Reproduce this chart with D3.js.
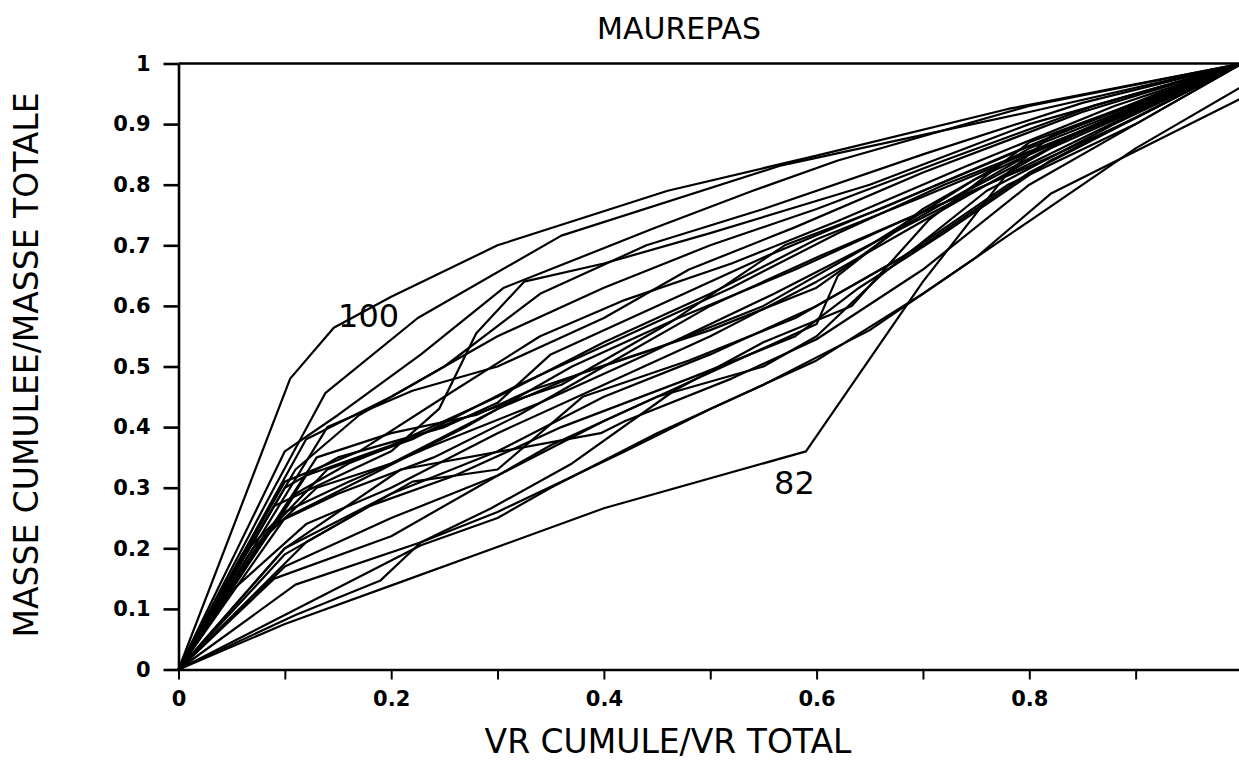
<!DOCTYPE html>
<html>
<head>
<meta charset="utf-8">
<script src="https://cdn.jsdelivr.net/npm/d3@7"></script>
<style>
  html, body { margin: 0; padding: 0; background: #fff; }
  svg { display: block; }
</style>
</head>
<body>
<svg id="chart" width="1239" height="761"></svg>
<script>
// ---------- data ----------
const title = "MAUREPAS";
const xLabel = "VR CUMULE/VR TOTAL";
const yLabel = "MASSE CUMULEE/MASSE TOTALE";
const xTicks = [0, 0.1, 0.2, 0.3, 0.4, 0.5, 0.6, 0.7, 0.8, 0.9, 1.0];
const xTickLabels = ["0", "", "0.2", "", "0.4", "", "0.6", "", "0.8", "", ""];
const yTicks = [0, 0.1, 0.2, 0.3, 0.4, 0.5, 0.6, 0.7, 0.8, 0.9, 1.0];
const yTickLabels = ["0", "0.1", "0.2", "0.3", "0.4", "0.5", "0.6", "0.7", "0.8", "0.9", "1"];

// each series: cumulative VR ratio (x) / cumulative mass ratio (y)
const series100 = [[0,0],[0.105,0.48],[0.146,0.564],[0.2,0.615],[0.3,0.70],[0.46,0.79],[0.6,0.848],[0.78,0.925],[1,1]];
const seriesU2 = [[0,0],[0.09,0.30],[0.138,0.456],[0.225,0.58],[0.36,0.716],[0.567,0.832],[0.8,0.92],[1,1]];
const seriesU3 = [[0,0],[0.1,0.36],[0.15,0.42],[0.228,0.52],[0.306,0.63],[0.447,0.728],[0.54,0.79],[0.62,0.84],[0.8,0.93],[1,1]];
const seriesU4 = [[0,0],[0.11,0.33],[0.17,0.42],[0.25,0.5],[0.34,0.62],[0.44,0.7],[0.55,0.76],[0.7,0.85],[0.85,0.935],[1,1]];
const seriesU5 = [[0,0],[0.12,0.38],[0.2,0.45],[0.3,0.55],[0.4,0.63],[0.5,0.7],[0.6,0.76],[0.72,0.84],[0.86,0.93],[1,1]];
const seriesM1 = [[0,0],[0.1,0.30],[0.15,0.35],[0.25,0.40],[0.3,0.44],[0.35,0.52],[0.45,0.60],[0.55,0.68],[0.7,0.79],[0.85,0.9],[1,1]];
const seriesM2 = [[0,0],[0.09,0.27],[0.2,0.36],[0.245,0.43],[0.28,0.555],[0.325,0.64],[0.4,0.67],[0.5,0.72],[0.65,0.80],[0.8,0.9],[1,1]];
const seriesM3 = [[0,0],[0.12,0.32],[0.2,0.37],[0.3,0.45],[0.4,0.54],[0.5,0.62],[0.6,0.71],[0.7,0.78],[0.85,0.89],[1,1]];
const seriesM4 = [[0,0],[0.1,0.25],[0.18,0.32],[0.27,0.40],[0.37,0.5],[0.47,0.58],[0.58,0.66],[0.68,0.74],[0.8,0.83],[0.9,0.91],[1,1]];
const seriesM5 = [[0,0],[0.08,0.22],[0.14,0.33],[0.22,0.38],[0.32,0.47],[0.42,0.55],[0.52,0.63],[0.62,0.72],[0.72,0.80],[0.88,0.91],[1,1]];
const seriesM6 = [[0,0],[0.11,0.29],[0.16,0.34],[0.26,0.41],[0.36,0.47],[0.46,0.57],[0.57,0.7],[0.66,0.76],[0.78,0.85],[0.92,0.95],[1,1]];
const seriesM7 = [[0,0],[0.13,0.35],[0.2,0.39],[0.28,0.42],[0.33,0.46],[0.45,0.53],[0.55,0.6],[0.65,0.7],[0.75,0.81],[0.9,0.93],[1,1]];
const seriesM8 = [[0,0],[0.07,0.2],[0.13,0.3],[0.2,0.34],[0.3,0.43],[0.38,0.49],[0.5,0.56],[0.6,0.63],[0.68,0.73],[0.8,0.85],[1,1]];
const seriesM9 = [[0,0],[0.06,0.19],[0.1,0.26],[0.16,0.31],[0.24,0.37],[0.34,0.44],[0.44,0.52],[0.56,0.62],[0.66,0.71],[0.76,0.8],[0.9,0.92],[1,1]];
const seriesM10 = [[0,0],[0.14,0.40],[0.22,0.46],[0.3,0.5],[0.4,0.58],[0.48,0.66],[0.58,0.73],[0.7,0.82],[0.85,0.92],[1,1]];
const seriesM11 = [[0,0],[0.1,0.31],[0.17,0.36],[0.25,0.45],[0.34,0.55],[0.42,0.61],[0.52,0.67],[0.62,0.74],[0.74,0.83],[0.88,0.93],[1,1]];
const seriesM12 = [[0,0],[0.09,0.24],[0.15,0.29],[0.24,0.35],[0.32,0.42],[0.4,0.5],[0.5,0.6],[0.6,0.68],[0.72,0.77],[0.84,0.88],[1,1]];
const seriesL1 = [[0,0],[0.1,0.2],[0.2,0.29],[0.3,0.36],[0.4,0.45],[0.5,0.52],[0.6,0.6],[0.7,0.7],[0.8,0.82],[0.9,0.91],[1,1]];
const seriesL2 = [[0,0],[0.12,0.21],[0.22,0.31],[0.3,0.33],[0.38,0.45],[0.48,0.51],[0.58,0.58],[0.68,0.68],[0.78,0.8],[0.9,0.9],[1,1]];
const seriesL3 = [[0,0],[0.1,0.17],[0.2,0.25],[0.3,0.32],[0.4,0.41],[0.5,0.49],[0.6,0.57],[0.62,0.65],[0.7,0.76],[0.8,0.86],[1,1]];
const seriesL4 = [[0,0],[0.09,0.15],[0.2,0.22],[0.28,0.3],[0.35,0.37],[0.45,0.45],[0.55,0.5],[0.6,0.55],[0.66,0.65],[0.76,0.79],[0.88,0.9],[1,1]];
const seriesL5 = [[0,0],[0.1,0.19],[0.18,0.27],[0.26,0.32],[0.36,0.4],[0.48,0.48],[0.58,0.55],[0.64,0.63],[0.72,0.72],[0.82,0.84],[1,1]];
const seriesL6 = [[0,0],[0.11,0.14],[0.228,0.21],[0.294,0.266],[0.37,0.34],[0.466,0.46],[0.55,0.54],[0.633,0.6],[0.705,0.741],[0.8,0.87],[1,1]];
const seriesL7 = [[0,0],[0.1,0.2],[0.209,0.33],[0.397,0.39],[0.42,0.41],[0.52,0.48],[0.6,0.545],[0.7,0.66],[0.8,0.8],[0.9,0.9],[1,1]];
const seriesL8 = [[0,0],[0.05,0.13],[0.12,0.24],[0.2,0.3],[0.3,0.39],[0.4,0.47],[0.5,0.55],[0.6,0.64],[0.7,0.74],[0.82,0.86],[1,1]];
const series82 = [[0,0],[0.1,0.075],[0.21,0.145],[0.40,0.266],[0.59,0.36],[0.70,0.64],[0.78,0.82],[0.82,0.88],[1,1]];
const seriesB2 = [[0,0],[0.11,0.09],[0.19,0.147],[0.228,0.21],[0.3,0.26],[0.36,0.31],[0.42,0.36],[0.5,0.43],[0.6,0.51],[0.7,0.62],[0.8,0.74],[0.9,0.86],[1,0.962]];
const seriesB3 = [[0,0],[0.228,0.205],[0.3,0.25],[0.35,0.3],[0.45,0.39],[0.55,0.47],[0.65,0.56],[0.75,0.68],[0.82,0.785],[1,0.943]];

const allSeries = [series100, seriesU2, seriesU3, seriesU4, seriesU5, seriesM1, seriesM2, seriesM3, seriesM4,
  seriesM5, seriesM6, seriesM7, seriesM8, seriesM9, seriesM10, seriesM11, seriesM12, seriesL1, seriesL2,
  seriesL3, seriesL4, seriesL5, seriesL6, seriesL7, seriesL8, series82, seriesB2, seriesB3];

const annotations = [
  { text: "100", x: 0.15, y: 0.565 },
  { text: "82", x: 0.56, y: 0.29 }
];

// ---------- chart ----------
const svg = d3.select("#chart");
const x = d3.scaleLinear().domain([0, 1]).range([178.5, 1242]);
const y = d3.scaleLinear().domain([0, 1]).range([669.5, 63.5]);

const font = "'DejaVu Sans', sans-serif";

// Series lines
const line = d3.line().x(d => x(d[0])).y(d => y(d[1]));
svg.append("g")
  .selectAll("path")
  .data(allSeries)
  .join("path")
  .attr("d", line)
  .attr("fill", "none")
  .attr("stroke", "#000")
  .attr("stroke-width", 2.2)
  .attr("stroke-linejoin", "round");

// Top frame line
svg.append("line")
  .attr("x1", x(0)).attr("x2", x(1))
  .attr("y1", y(1)).attr("y2", y(1))
  .attr("stroke", "#000").attr("stroke-width", 2.6);

// Y axis
const yAxis = d3.axisLeft(y)
  .tickValues(yTicks)
  .tickFormat((d, i) => yTickLabels[i])
  .tickSize(15)
  .tickSizeOuter(0)
  .tickPadding(13);
const gy = svg.append("g").attr("transform", `translate(${x(0)},0)`).call(yAxis);
gy.select(".domain").attr("stroke", "#000").attr("stroke-width", 2.6);
gy.selectAll(".tick line").attr("stroke", "#000").attr("stroke-width", 2.6);
gy.selectAll(".tick text")
  .attr("font-family", font).attr("font-weight", "bold")
  .attr("font-size", 21).attr("fill", "#000");

// X axis
const xAxis = d3.axisBottom(x)
  .tickValues(xTicks)
  .tickFormat((d, i) => xTickLabels[i])
  .tickSize(10)
  .tickSizeOuter(0)
  .tickPadding(12);
const gx = svg.append("g").attr("transform", `translate(0,${y(0)})`).call(xAxis);
gx.select(".domain").attr("stroke", "#000").attr("stroke-width", 2.6);
gx.selectAll(".tick line").attr("stroke", "#000").attr("stroke-width", 2);
gx.selectAll(".tick text")
  .attr("font-family", font).attr("font-weight", "bold")
  .attr("font-size", 21).attr("fill", "#000");

// Title
svg.append("text")
  .attr("x", 679).attr("y", 39)
  .attr("text-anchor", "middle")
  .attr("font-family", font).attr("font-size", 30)
  .attr("fill", "#000")
  .text(title);

// Axis titles
svg.append("text")
  .attr("x", 668).attr("y", 753)
  .attr("text-anchor", "middle")
  .attr("font-family", font).attr("font-size", 33)
  .attr("fill", "#000")
  .text(xLabel);

svg.append("text")
  .attr("transform", "translate(38,365) rotate(-90)")
  .attr("text-anchor", "middle")
  .attr("font-family", font).attr("font-size", 33)
  .attr("fill", "#000")
  .text(yLabel);

// Curve annotations
svg.append("g")
  .selectAll("text")
  .data(annotations)
  .join("text")
  .attr("x", d => x(d.x))
  .attr("y", d => y(d.y))
  .attr("font-family", font).attr("font-size", 32)
  .attr("fill", "#000")
  .text(d => d.text);
</script>
</body>
</html>
